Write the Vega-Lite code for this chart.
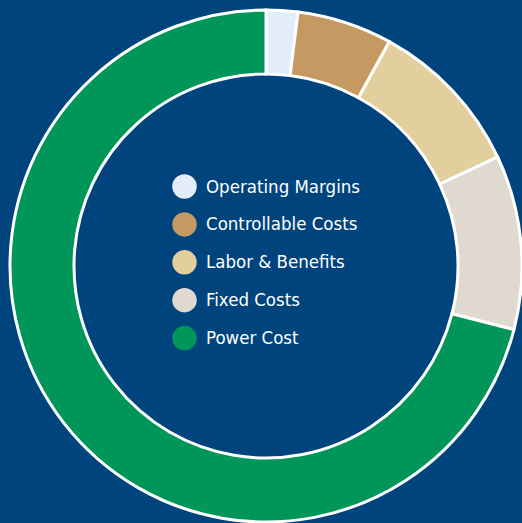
{
  "$schema": "https://vega.github.io/schema/vega-lite/v6.json",
  "width": 512,
  "height": 514,
  "padding": {"left": 10, "top": 9, "right": 0, "bottom": 0},
  "autosize": {"type": "none"},
  "background": "#00447E",
  "config": {"view": {"stroke": null}},
  "data": {
    "values": [
      {"category": "Operating Margins", "value": 2, "rank": 1},
      {"category": "Controllable Costs", "value": 6, "rank": 2},
      {"category": "Labor & Benefits", "value": 10, "rank": 3},
      {"category": "Fixed Costs", "value": 11, "rank": 4},
      {"category": "Power Cost", "value": 71, "rank": 5}
    ]
  },
  "mark": {"type": "arc", "outerRadius": 256, "innerRadius": 192, "stroke": "white", "strokeWidth": 3},
  "encoding": {
    "theta": {"field": "value", "type": "quantitative", "stack": true},
    "order": {"field": "rank", "type": "quantitative"},
    "color": {
      "field": "category",
      "type": "nominal",
      "scale": {
        "domain": ["Operating Margins", "Controllable Costs", "Labor & Benefits", "Fixed Costs", "Power Cost"],
        "range": ["#E3EDF8", "#C49A62", "#E3CF9E", "#E0D9D0", "#00965A"]
      },
      "legend": {
        "title": null,
        "orient": "none",
        "legendX": 162,
        "legendY": 165,
        "padding": 0,
        "symbolType": "circle",
        "symbolSize": 600,
        "symbolStrokeWidth": 0,
        "symbolOpacity": 1,
        "labelColor": "white",
        "labelFont": "DejaVu Sans Condensed",
        "labelFontSize": 18.5,
        "labelOffset": 9,
        "rowPadding": 12.9,
        "labelLimit": 300
      }
    }
  }
}
